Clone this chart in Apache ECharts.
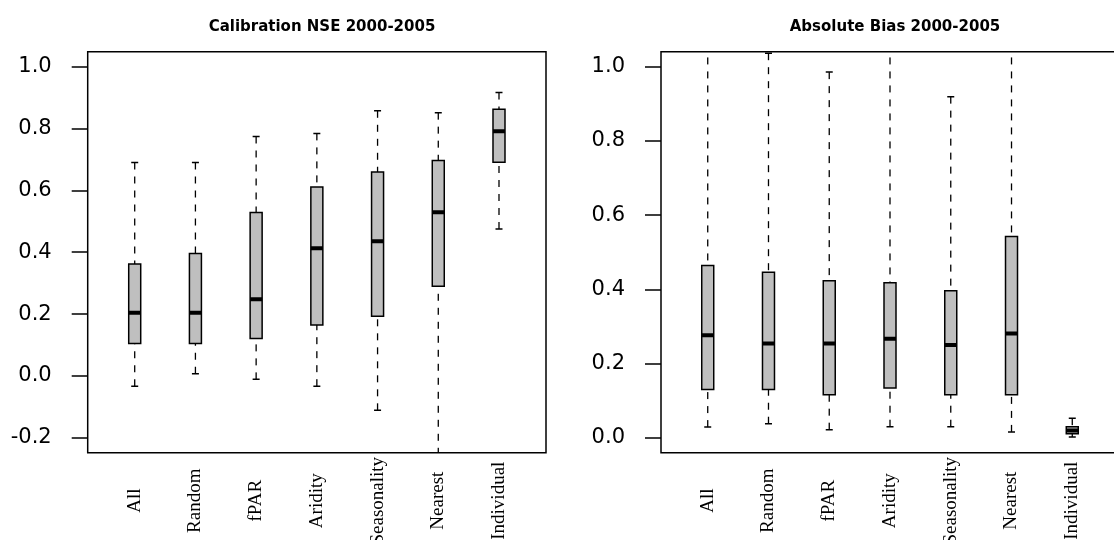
<!DOCTYPE html>
<html>
<head>
<meta charset="utf-8">
<title>Calibration NSE / Absolute Bias 2000-2005</title>
<script src="https://cdn.jsdelivr.net/npm/echarts@6/dist/echarts.min.js"></script>
<style>
  html, body { margin: 0; padding: 0; background: #fff; }
  #chart { width: 1114px; height: 540px; }
</style>
</head>
<body>
<div id="chart"></div>
<script>
// groups on the x axis (same for both panels)
const categories = ['All', 'Random', 'fPAR', 'Aridity', 'Seasonality', 'Nearest', 'Individual']

// left panel: Calibration NSE 2000-2005 (whisker low, Q1, median, Q3, whisker high)
const nseMin = [-0.033, 0.007, -0.011, -0.033, -0.111, -0.3, 0.475]
const nseQ1 = [0.105, 0.105, 0.121, 0.165, 0.193, 0.29, 0.691]
const nseMedian = [0.204, 0.204, 0.248, 0.413, 0.435, 0.529, 0.791]
const nseQ3 = [0.362, 0.396, 0.528, 0.611, 0.659, 0.696, 0.862]
const nseMax = [0.69, 0.69, 0.774, 0.784, 0.857, 0.851, 0.916]

// right panel: Absolute Bias 2000-2005
const biasMin = [0.029, 0.038, 0.022, 0.03, 0.03, 0.016, 0.002]
const biasQ1 = [0.13, 0.13, 0.116, 0.134, 0.116, 0.116, 0.011]
const biasMedian = [0.276, 0.254, 0.254, 0.267, 0.25, 0.281, 0.02]
const biasQ3 = [0.464, 0.446, 0.423, 0.418, 0.396, 0.542, 0.03]
const biasMax = [1.1, 1.036, 0.985, 1.1, 0.919, 1.1, 0.053]

// tick labels of the y axes
const nseTicks = [-0.2, 0, 0.2, 0.4, 0.6, 0.8, 1.0]
const biasTicks = [0, 0.2, 0.4, 0.6, 0.8, 1.0]

const buildRows = (lo, q1, med, q3, hi) =>
  categories.map((c, i) => [i, lo[i], q1[i], med[i], q3[i], hi[i]])

const renderBox = (params, api) => {
  const x = api.value(0)
  const lo = api.coord([x, api.value(1)])
  const q1 = api.coord([x, api.value(2)])
  const md = api.coord([x, api.value(3)])
  const q3 = api.coord([x, api.value(4)])
  const hi = api.coord([x, api.value(5)])
  const half = 6
  const cap = 3.5
  const dashed = { stroke: '#000', lineWidth: 1.3, lineDash: [7, 7] }
  const solid = { stroke: '#000', lineWidth: 1.5 }
  return {
    type: 'group',
    children: [
      { type: 'line', shape: { x1: hi[0], y1: hi[1], x2: q3[0], y2: q3[1] }, style: dashed },
      { type: 'line', shape: { x1: lo[0], y1: lo[1], x2: q1[0], y2: q1[1] }, style: dashed },
      { type: 'line', shape: { x1: hi[0] - cap, y1: hi[1], x2: hi[0] + cap, y2: hi[1] }, style: solid },
      { type: 'line', shape: { x1: lo[0] - cap, y1: lo[1], x2: lo[0] + cap, y2: lo[1] }, style: solid },
      {
        type: 'rect',
        shape: { x: q3[0] - half, y: q3[1], width: half * 2, height: q1[1] - q3[1] },
        style: { fill: '#bfbfbf', stroke: '#000', lineWidth: 1.5 },
      },
      { type: 'line', shape: { x1: md[0] - half, y1: md[1], x2: md[0] + half, y2: md[1] }, style: { stroke: '#000', lineWidth: 4 } },
    ],
  }
}

const plotTop = 51.7
const plotHeight = 401

// outer frame grid + inner data grid for each panel
const panels = [
  { frameLeft: 87.7, frameWidth: 458.3, dataLeft: 104.35, dataWidth: 425, min: -0.248, max: 1.048, ticks: nseTicks },
  { frameLeft: 661, frameWidth: 460, dataLeft: 677.35, dataWidth: 425.3, min: -0.04, max: 1.04, ticks: biasTicks },
]

const grid = []
const xAxis = []
const yAxis = []
panels.forEach((p, k) => {
  grid.push({
    left: p.frameLeft, top: plotTop, width: p.frameWidth, height: plotHeight,
    outerBoundsMode: 'none', containLabel: false,
    show: true, borderColor: '#000', borderWidth: 1.5, backgroundColor: 'transparent',
  })
  grid.push({
    left: p.dataLeft, top: plotTop, width: p.dataWidth, height: plotHeight,
    outerBoundsMode: 'none', containLabel: false,
  })

  xAxis.push({ type: 'value', gridIndex: k * 2, show: false })
  xAxis.push({
    type: 'category',
    gridIndex: k * 2 + 1,
    data: categories,
    axisLine: { show: false },
    axisTick: { show: false },
    axisLabel: {
      interval: 0,
      rotate: 90,
      align: 'center',
      verticalAlign: 'middle',
      margin: 48,
      fontFamily: 'Liberation Serif',
      fontSize: 19,
      color: '#000',
    },
  })

  yAxis.push({
    type: 'value',
    gridIndex: k * 2,
    min: p.min,
    max: p.max,
    axisLine: { show: false },
    splitLine: { show: false },
    axisTick: { show: true, inside: false, length: 16, customValues: p.ticks, lineStyle: { color: '#000', width: 1.5 } },
    axisLabel: {
      customValues: p.ticks,
      margin: 36,
      fontFamily: 'DejaVu Sans',
      fontSize: 21,
      color: '#000',
      formatter: (v) => v.toFixed(1),
    },
  })
  yAxis.push({ type: 'value', gridIndex: k * 2 + 1, min: p.min, max: p.max, show: false })
})

const chart = echarts.init(document.getElementById('chart'))

const option = {
  animation: false,
  backgroundColor: '#fff',
  title: [
    {
      text: 'Calibration NSE 2000-2005',
      left: 317, top: 13, textAlign: 'center',
      textStyle: { fontFamily: 'DejaVu Sans', fontWeight: 'bold', fontSize: 15, lineHeight: 18, color: '#000' },
    },
    {
      text: 'Absolute Bias 2000-2005',
      left: 890, top: 13, textAlign: 'center',
      textStyle: { fontFamily: 'DejaVu Sans', fontWeight: 'bold', fontSize: 15, lineHeight: 18, color: '#000' },
    },
  ],
  grid: grid,
  xAxis: xAxis,
  yAxis: yAxis,
  series: [
    {
      type: 'custom',
      name: 'Calibration NSE',
      xAxisIndex: 1,
      yAxisIndex: 1,
      clip: true,
      renderItem: renderBox,
      encode: { x: 0, y: [1, 2, 3, 4, 5] },
      data: buildRows(nseMin, nseQ1, nseMedian, nseQ3, nseMax),
    },
    {
      type: 'custom',
      name: 'Absolute Bias',
      xAxisIndex: 3,
      yAxisIndex: 3,
      clip: true,
      renderItem: renderBox,
      encode: { x: 0, y: [1, 2, 3, 4, 5] },
      data: buildRows(biasMin, biasQ1, biasMedian, biasQ3, biasMax),
    },
  ],
}

chart.setOption(option)
</script>
</body>
</html>
